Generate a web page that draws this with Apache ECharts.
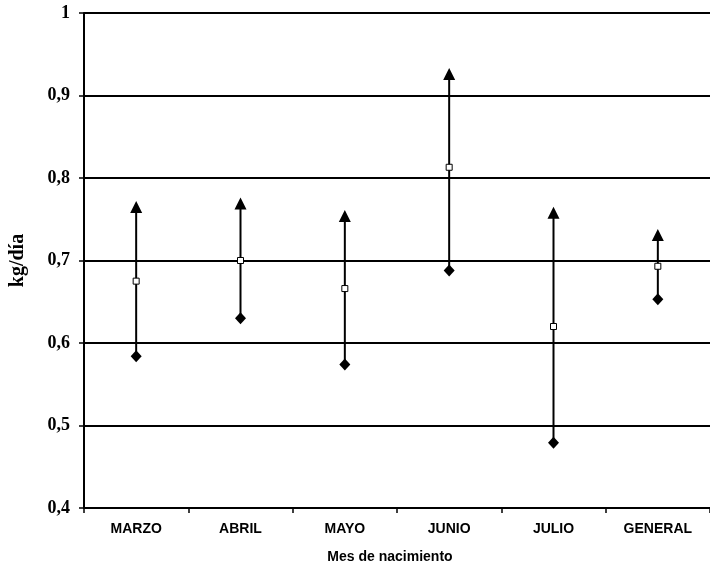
<!DOCTYPE html>
<html>
<head>
<meta charset="utf-8">
<script src="https://cdn.jsdelivr.net/npm/echarts@6/dist/echarts.min.js"></script>
<style>
html,body{margin:0;padding:0;background:#fff;}
#chart{width:710px;height:572px;}
</style>
</head>
<body>
<div id="chart"></div>
<script>
var categories = ['MARZO', 'ABRIL', 'MAYO', 'JUNIO', 'JULIO', 'GENERAL'];
var maxValues  = [0.765, 0.769, 0.754, 0.926, 0.758, 0.731];
var meanValues = [0.675, 0.700, 0.666, 0.813, 0.620, 0.693];
var minValues  = [0.584, 0.630, 0.574, 0.688, 0.479, 0.653];
var yTicks = [0.4, 0.5, 0.6, 0.7, 0.8, 0.9, 1];

var rangeData = categories.map(function (c, i) { return [i, minValues[i], maxValues[i]]; });

var chart = echarts.init(document.getElementById('chart'));
chart.setOption({
  animation: false,
  backgroundColor: '#fff',
  grid: { left: 82, top: 13, right: 0, bottom: 64 },
  xAxis: {
    type: 'category',
    data: categories,
    boundaryGap: true,
    name: 'Mes de nacimiento',
    nameLocation: 'middle',
    nameGap: 42,
    nameTextStyle: { fontFamily: 'Liberation Sans', fontWeight: 'bold', fontSize: 14, color: '#000', padding: [0, 14, 0, 0] },
    axisLine: { lineStyle: { color: '#000', width: 2 } },
    axisTick: { show: true, alignWithLabel: false, length: 5, lineStyle: { color: '#000', width: 1.5 } },
    axisLabel: { fontFamily: 'Liberation Sans', fontWeight: 'bold', fontSize: 14, color: '#000', margin: 14 }
  },
  yAxis: {
    type: 'value',
    min: 0.4,
    max: 1,
    interval: 0.1,
    name: 'kg/día',
    nameLocation: 'middle',
    nameGap: 56,
    nameRotate: 90,
    nameTextStyle: { fontFamily: 'Liberation Serif', fontWeight: 'bold', fontSize: 20, color: '#000' },
    axisLine: { show: true, lineStyle: { color: '#000', width: 2 } },
    axisTick: { show: true, length: 5, lineStyle: { color: '#000', width: 1.5 } },
    axisLabel: {
      fontFamily: 'Liberation Serif', fontWeight: 'bold', fontSize: 18, color: '#000', margin: 14,
      formatter: function (v) {
        var r = Math.round(v * 10) / 10;
        return (r === 1 ? '1' : r.toFixed(1)).replace('.', ',');
      }
    },
    splitLine: { show: true, lineStyle: { color: '#000', width: 2 } }
  },
  series: [
    {
      type: 'custom',
      data: rangeData,
      z: 2,
      renderItem: function (params, api) {
        var p1 = api.coord([api.value(0), api.value(1)]);
        var p2 = api.coord([api.value(0), api.value(2)]);
        return {
          type: 'line',
          shape: { x1: p1[0], y1: p1[1], x2: p2[0], y2: p2[1] },
          style: { stroke: '#000', lineWidth: 2 }
        };
      }
    },
    {
      type: 'scatter',
      data: maxValues,
      symbol: 'triangle',
      symbolSize: [12, 12],
      itemStyle: { color: '#000', opacity: 1 },
      z: 3
    },
    {
      type: 'scatter',
      data: minValues,
      symbol: 'diamond',
      symbolSize: [11, 12],
      itemStyle: { color: '#000', opacity: 1 },
      z: 3
    },
    {
      type: 'scatter',
      data: meanValues,
      symbol: 'rect',
      symbolSize: 6,
      itemStyle: { color: '#fff', borderColor: '#000', borderWidth: 1, opacity: 1 },
      z: 4
    }
  ]
});
</script>
</body>
</html>
